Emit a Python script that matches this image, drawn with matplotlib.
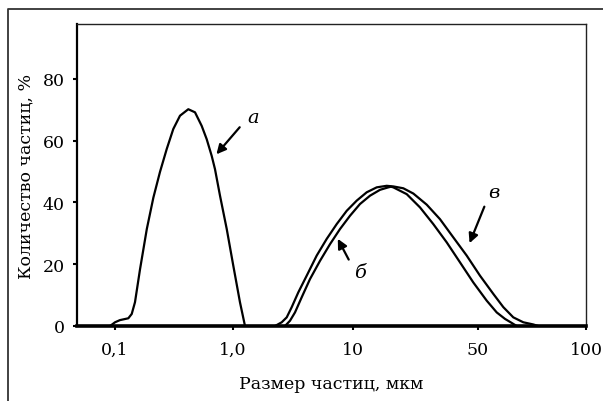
import numpy as np
import matplotlib
matplotlib.use("Agg")
import matplotlib.pyplot as plt
from matplotlib.lines import Line2D

# ---- data ----
tick_values = [0.1, 1.0, 10, 50, 100]
tick_labels = ["0,1", "1,0", "10", "50", "100"]
y_ticks = [0, 20, 40, 60, 80]

a_x = [0.0908, 0.100, 0.110, 0.1297, 0.1386, 0.1477, 0.163, 0.186, 0.2115, 0.2406,
       0.2743, 0.3119, 0.3555, 0.418, 0.4765, 0.5429, 0.5985, 0.6598, 0.7036, 0.776,
       0.885, 1.006, 1.143, 1.259]
a_y = [0.0, 1.2, 1.9, 2.5, 3.9, 7.7, 18.4, 31.4, 41.6, 49.9,
       57.3, 63.8, 68.1, 70.2, 69.2, 64.8, 60.5, 55.1, 50.8, 42.2,
       31.4, 19.5, 7.7, 0.0]

b_x = [2.712, 2.985, 3.286, 3.737, 4.382, 5.309, 6.432, 7.793, 9.441, 10.94, 12.45, 14.16,
       15.76, 16.30, 16.80, 19.97, 23.70, 28.12, 33.41, 39.67, 47.07, 52.88, 56.38, 59.46,
       62.07, 64.1]
b_y = [0.0, 1.7, 4.4, 9.3, 15.2, 21.1, 26.5, 31.4, 35.7, 39.5, 42.2, 44.1,
       44.9, 45.1, 44.9, 42.7, 38.4, 33.0, 27.1, 20.6, 14.1, 8.2, 4.4, 2.3,
       1.0, 0.0]

v_x = [2.239, 2.546, 2.803, 3.085, 3.502, 4.114, 4.983, 6.037, 7.314, 8.862, 10.49, 11.93,
       13.57, 15.43, 16.80, 19.11, 21.74, 25.83, 30.65, 36.38, 43.23, 50.64, 55.16, 58.83,
       62.71, 66.88, 71.3, 73.6]
v_y = [0.0, 1.2, 2.8, 6.1, 10.9, 16.3, 22.8, 28.2, 33.0, 37.3, 40.6, 43.3,
       44.9, 45.4, 45.2, 44.6, 42.9, 39.3, 34.6, 28.7, 22.8, 16.3, 10.4, 6.1,
       2.8, 1.2, 0.5, 0.0]

# ---- custom (piecewise log) axis scale matching the printed ticks ----
_logs = np.array([-3.0, -1.0, 0.0, 1.0, np.log10(50), 2.0, 4.0])
_pos = np.array([115 - 2 * 118, 115, 233, 353, 478, 586, 586 + 2 * 359], dtype=float)


def fwd(x):
    x = np.asarray(x, dtype=float)
    with np.errstate(divide="ignore", invalid="ignore"):
        lx = np.log10(np.where(x > 0, x, 1e-3))
    return np.interp(lx, _logs, _pos)


def inv(p):
    p = np.asarray(p, dtype=float)
    return 10 ** np.interp(p, _pos, _logs)


plt.rcParams["font.family"] = ["DejaVu Serif"]

fig = plt.figure(figsize=(6.03, 4.02), dpi=100)
W, H = 603, 402
ax = fig.add_axes([77 / W, 1 - 327 / H, (586 - 77) / W, (327 - 25) / H])
ax.set_xscale("function", functions=(fwd, inv))
ax.set_xlim(inv(77.0), 100)
ax.set_ylim(0, 97.8)

for xs, ys in [(a_x, a_y), (b_x, b_y), (v_x, v_y)]:
    ax.plot(xs, ys, color="black", lw=1.6, solid_capstyle="round",
            solid_joinstyle="round", zorder=3)

ax.set_xticks(tick_values)
ax.set_xticklabels(tick_labels)
ax.xaxis.set_minor_locator(matplotlib.ticker.NullLocator())
ax.set_yticks(y_ticks)
ax.tick_params(axis="both", direction="out", length=3, width=1.5, labelsize=12.5,
               colors="black", pad=6)
ax.tick_params(axis="x", pad=8)

ax.spines["bottom"].set_linewidth(2.6)
ax.spines["left"].set_linewidth(1.6)
ax.spines["top"].set_linewidth(1.0)
ax.spines["right"].set_linewidth(1.0)
ax.spines["top"].set_color("#222222")
ax.spines["right"].set_color("#222222")

ax.set_xlabel("Размер частиц, мкм", fontsize=12.5, labelpad=12)
ax.set_ylabel("Количество частиц, %", fontsize=12.5, labelpad=6)

# annotations
ax.annotate("", xy=(inv(214.6), (327 - 157.3) / 3.09), xytext=(inv(241.5), (327 - 126) / 3.09),
            arrowprops=dict(arrowstyle="-|>", color="black", lw=1.6, mutation_scale=14))
ax.text(inv(253), (327 - 118) / 3.09, "а", style="italic", fontsize=14, ha="center", va="center")

ax.annotate("", xy=(inv(336.5), (327 - 237.3) / 3.09), xytext=(inv(350), (327 - 263) / 3.09),
            arrowprops=dict(arrowstyle="-|>", color="black", lw=1.6, mutation_scale=14))
ax.text(inv(360), (327 - 273) / 3.09, "б", style="italic", fontsize=14, ha="center", va="center")

ax.annotate("", xy=(inv(468.5), (327 - 246.7) / 3.09), xytext=(inv(485.4), (327 - 205) / 3.09),
            arrowprops=dict(arrowstyle="-|>", color="black", lw=1.6, mutation_scale=14))
ax.text(inv(494), (327 - 193) / 3.09, "в", style="italic", fontsize=14, ha="center", va="center")

# outer frame (left and top edges)
fig.add_artist(Line2D([8 / W, 8 / W, 1.0], [0.0, 1 - 10 / H, 1 - 10 / H],
                      transform=fig.transFigure, color="#333333", lw=1.3))

fig.savefig("out.png", dpi=100)
